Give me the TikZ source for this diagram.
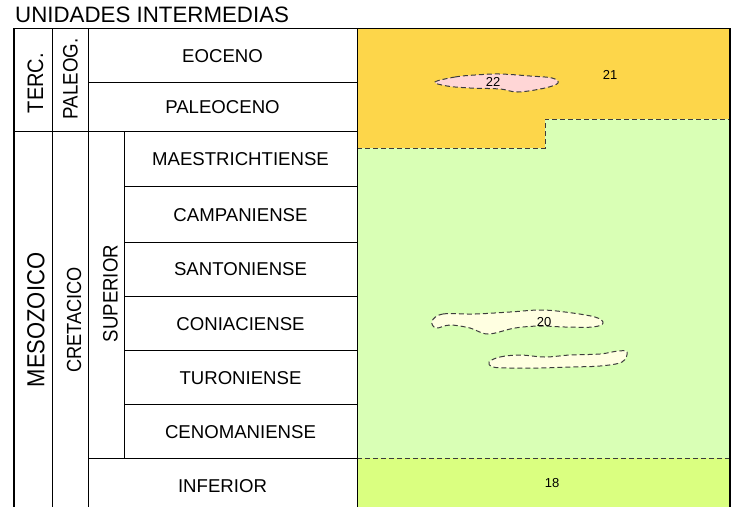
\documentclass[tikz,border=0pt]{standalone}
\usepackage{graphicx}
\usepackage{fontspec}
\setmainfont{Liberation Sans}
\definecolor{terc}{RGB}{253,214,74}
\definecolor{cret}{RGB}{217,255,181}
\definecolor{infc}{RGB}{218,255,128}
\definecolor{pinklens}{RGB}{255,214,214}
\definecolor{creamlens}{RGB}{255,255,225}
\definecolor{dashc}{RGB}{60,60,60}
\newcommand{\tallt}[1]{\scalebox{1}[1.12]{#1}}
\begin{document}
\begin{tikzpicture}[x=1pt,y=-1pt,
  grid/.style={draw=black,line width=0.9pt},
  bound/.style={draw=dashc,line width=1pt,dash pattern=on 5pt off 3pt},
  stage/.style={font=\fontsize{18.6}{18.6}\selectfont,inner sep=0pt},
  vlab/.style={rotate=90,inner sep=0pt},
  unitlab/.style={font=\fontsize{13}{13}\selectfont,inner sep=0pt}]
\useasboundingbox (0,0) rectangle (733,507);
% fills
\fill[terc] (357,28) -- (730,28) -- (730,119) -- (545,119) -- (545,148) -- (357,148) -- cycle;
\fill[cret] (357,148) -- (545,148) -- (545,119) -- (730,119) -- (730,458) -- (357,458) -- cycle;
\fill[infc] (357,458) rectangle (730,507);
% lenses
\path[fill=pinklens,bound] plot[smooth cycle,tension=0.6] coordinates
 {(435,82) (455,77) (475,75) (500,74) (530,76) (552,78) (558,83) (545,88) (518,92) (500,89) (470,88) (447,86)};
\path[fill=creamlens,bound] plot[smooth cycle,tension=0.6] coordinates
 {(432,321) (443,314) (475,314) (510,312) (540,310) (565,312) (595,317) (603,323) (593,327) (565,327) (540,326) (515,328) (488,334) (470,328) (450,325) (436,328)};
\path[fill=creamlens,bound] plot[smooth cycle,tension=0.6] coordinates
 {(489,362) (500,357) (520,355) (545,357) (570,355) (600,354) (618,351) (627,352) (622,362) (600,366) (570,367) (540,368) (510,368) (493,367)};
% boundaries
\draw[bound] (357,148) -- (545,148) -- (545,119) -- (730,119);
\draw[bound] (357,458) -- (730,458);
% grid
\draw[grid] (14,28) -- (730,28);
\draw[draw=black,line width=1.6pt] (14,28) -- (14,507);
\draw[grid] (52,28) -- (52,507);
\draw[grid] (88,28) -- (88,507);
\draw[grid] (357,28) -- (357,507);
\draw[draw=black,line width=1.3pt] (730,28) -- (730,507);
\draw[grid] (124,131) -- (124,458);
\draw[grid] (88,82) -- (357,82);
\draw[grid] (14,131) -- (357,131);
\foreach \yy in {186,242,296,350,404} \draw[grid] (124,\yy) -- (357,\yy);
\draw[grid] (88,458) -- (357,458);
% title
\node[anchor=base west,inner sep=0pt,font=\fontsize{22.3}{22.3}\selectfont] (title) at (15,22) {UNIDADES INTERMEDIAS};
% vertical labels
\node[vlab,font=\fontsize{20}{20}\selectfont] (terc) at (35.5,83) {\tallt{TERC.}};
\node[vlab,font=\fontsize{18.7}{18.7}\selectfont] (paleog) at (70.5,79) {\tallt{PALEOG.}};
\node[vlab,font=\fontsize{22}{22}\selectfont] (meso) at (36,320) {\tallt{MESOZOICO}};
\node[vlab,font=\fontsize{18.2}{18.2}\selectfont] (creta) at (74,320) {\tallt{CRETACICO}};
\node[vlab,font=\fontsize{18.6}{18.6}\selectfont] (sup) at (110.5,293.5) {\tallt{SUPERIOR}};
% stages
\node[stage] (eoc) at (222.5,56) {EOCENO};
\node[stage] (pal) at (222.5,107) {PALEOCENO};
\node[stage] (maes) at (240.5,159) {MAESTRICHTIENSE};
\node[stage] (camp) at (240.5,215) {CAMPANIENSE};
\node[stage] (sant) at (240.5,269) {SANTONIENSE};
\node[stage] (coni) at (240.5,324) {CONIACIENSE};
\node[stage] (turo) at (240.5,378) {TURONIENSE};
\node[stage] (ceno) at (240.5,432) {CENOMANIENSE};
\node[stage] (inf) at (222.5,486) {INFERIOR};
% unit labels
\node[unitlab] (u22) at (493,82) {22};
\node[unitlab] (u21) at (610,75) {21};
\node[unitlab] (u20) at (544,322) {20};
\node[unitlab] (u18) at (552,483) {18};
\end{tikzpicture}
\end{document}
